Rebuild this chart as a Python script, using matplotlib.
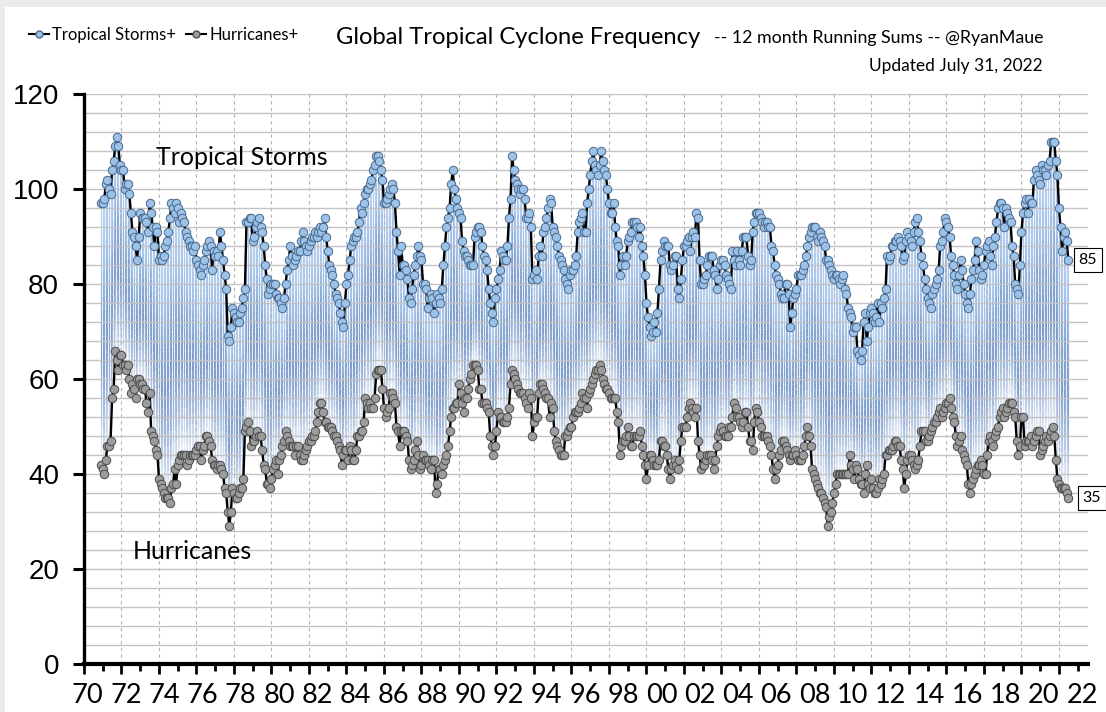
import numpy as np
import matplotlib
matplotlib.use("Agg")
import matplotlib.pyplot as plt
from matplotlib.collections import LineCollection
from matplotlib.colors import LinearSegmentedColormap
from matplotlib.lines import Line2D
from matplotlib.patches import Rectangle
from matplotlib.ticker import MultipleLocator

plt.rcParams['font.family'] = ['Lato', 'DejaVu Sans']

# ---DATA--- 12 month running sums, monthly, Dec 1970 .. Jul 2022
tropical_storms = [
    97, 97, 98, 101, 102, 100, 99, 104, 106, 109, 111, 109,
    105, 104, 104, 100, 101, 101, 99, 95, 91, 90, 88, 85,
    90, 95, 94, 94, 94, 93, 91, 97, 95, 92, 88, 92,
    91, 85, 86, 85, 86, 88, 89, 91, 94, 97, 96, 95,
    97, 96, 93, 95, 94, 93, 91, 90, 89, 88, 88, 87,
    88, 85, 84, 83, 82, 84, 85, 87, 88, 89, 88, 83,
    87, 86, 87, 86, 91, 88, 85, 82, 79, 69, 68, 71,
    75, 74, 73, 72, 72, 74, 75, 77, 79, 93, 93, 94,
    94, 89, 90, 92, 93, 94, 92, 91, 88, 84, 81, 78,
    79, 80, 80, 80, 78, 77, 77, 76, 75, 77, 80, 83,
    85, 88, 86, 84, 85, 86, 87, 87, 89, 91, 89, 88,
    87, 88, 89, 90, 90, 91, 90, 91, 92, 91, 92, 94,
    90, 87, 84, 83, 82, 80, 78, 77, 76, 74, 72, 71,
    76, 80, 82, 85, 88, 89, 90, 90, 91, 93, 96, 95,
    97, 99, 100, 100, 101, 102, 104, 105, 107, 107, 106, 104,
    102, 97, 97, 98, 99, 100, 101, 100, 97, 91, 87, 82,
    88, 84, 84, 83, 81, 77, 76, 79, 82, 84, 86, 88,
    86, 85, 80, 80, 79, 75, 77, 78, 77, 74, 76, 78,
    77, 76, 79, 84, 88, 92, 94, 96, 101, 104, 100, 98,
    96, 95, 94, 89, 87, 86, 86, 85, 84, 84, 84, 90,
    91, 92, 92, 91, 88, 86, 85, 83, 79, 76, 74, 72,
    77, 79, 81, 83, 87, 86, 85, 85, 88, 94, 98, 107,
    104, 102, 101, 100, 99, 100, 100, 98, 94, 94, 95, 92,
    81, 82, 83, 81, 86, 88, 86, 91, 92, 94, 96, 98,
    97, 92, 91, 90, 88, 86, 85, 84, 83, 81, 80, 79,
    82, 83, 83, 84, 86, 91, 93, 94, 95, 91, 91, 97,
    100, 103, 106, 108, 105, 104, 103, 105, 108, 106, 104, 103,
    100, 97, 95, 95, 97, 92, 89, 88, 82, 84, 86, 84,
    86, 89, 90, 91, 93, 93, 93, 92, 90, 92, 88, 86,
    82, 76, 73, 71, 69, 70, 72, 70, 74, 79, 85, 87,
    89, 88, 88, 88, 84, 83, 84, 86, 86, 79, 77, 81,
    85, 88, 88, 89, 90, 87, 90, 91, 90, 95, 94, 85,
    80, 80, 81, 82, 84, 86, 86, 86, 83, 82, 79, 81,
    84, 85, 85, 84, 82, 81, 80, 79, 87, 85, 84, 87,
    85, 84, 87, 90, 90, 90, 86, 84, 85, 91, 93, 95,
    95, 95, 94, 93, 92, 93, 93, 92, 92, 88, 87, 84,
    82, 81, 80, 78, 77, 77, 80, 80, 78, 71, 74, 77,
    78, 79, 82, 82, 82, 83, 84, 86, 88, 90, 91, 92,
    92, 92, 90, 89, 91, 90, 89, 88, 85, 85, 84, 83,
    82, 81, 82, 82, 81, 80, 81, 82, 79, 78, 75, 74,
    73, 70, 71, 71, 66, 65, 64, 66, 72, 74, 68, 71,
    74, 75, 74, 72, 73, 76, 72, 76, 75, 77, 79, 86,
    85, 86, 88, 88, 89, 89, 90, 89, 88, 85, 86, 89,
    91, 90, 89, 88, 91, 93, 94, 91, 89, 86, 84, 81,
    79, 77, 76, 75, 78, 79, 80, 81, 83, 88, 89, 91,
    94, 93, 92, 90, 86, 84, 82, 80, 79, 82, 85, 83,
    80, 78, 76, 75, 78, 81, 83, 85, 89, 87, 83, 81,
    82, 84, 87, 88, 89, 86, 84, 88, 90, 93, 96, 97,
    97, 96, 92, 96, 95, 94, 93, 88, 86, 80, 79, 78,
    84, 91, 95, 97, 98, 95, 98, 97, 97, 102, 104, 103,
    102, 101, 105, 104, 104, 103, 105, 106, 110, 110, 110, 106,
    103, 96, 92, 87, 90, 91, 89, 85,
]

hurricanes = [
    42, 41, 40, 43, 46, 46, 47, 56, 58, 66, 64, 62,
    65, 65, 63, 63, 62, 63, 60, 57, 59, 58, 56, 60,
    60, 59, 59, 58, 58, 55, 53, 57, 49, 48, 47, 45,
    44, 39, 38, 37, 36, 35, 35, 35, 34, 37, 38, 41,
    38, 42, 43, 44, 44, 44, 44, 42, 43, 44, 44, 44,
    44, 45, 46, 46, 43, 45, 46, 48, 48, 47, 46, 43,
    42, 42, 41, 42, 42, 41, 40, 37, 36, 32, 29, 32,
    37, 36, 35, 35, 36, 37, 37, 39, 49, 50, 51, 49,
    46, 47, 47, 48, 49, 48, 48, 45, 42, 41, 38, 38,
    37, 39, 41, 42, 43, 40, 43, 44, 46, 47, 49, 48,
    47, 46, 46, 46, 44, 46, 46, 44, 43, 43, 44, 45,
    46, 47, 47, 48, 48, 49, 51, 53, 55, 55, 53, 51,
    51, 50, 50, 50, 49, 48, 48, 47, 46, 45, 42, 44,
    45, 45, 43, 46, 45, 43, 43, 45, 48, 48, 49, 49,
    51, 56, 55, 54, 55, 54, 54, 56, 61, 62, 62, 62,
    58, 54, 52, 53, 54, 57, 57, 56, 55, 50, 49, 46,
    49, 49, 49, 48, 47, 43, 41, 42, 43, 45, 47, 44,
    41, 42, 44, 43, 43, 43, 42, 41, 43, 43, 36, 38,
    41, 41, 40, 42, 43, 44, 46, 49, 52, 54, 54, 55,
    55, 59, 57, 55, 53, 56, 56, 58, 60, 61, 63, 63,
    63, 62, 58, 58, 55, 55, 55, 54, 53, 48, 46, 44,
    46, 49, 53, 52, 52, 51, 51, 51, 52, 54, 59, 62,
    61, 60, 59, 58, 57, 57, 57, 56, 55, 54, 57, 56,
    48, 51, 52, 52, 57, 59, 59, 58, 57, 56, 56, 52,
    55, 54, 49, 47, 46, 45, 44, 44, 44, 48, 48, 49,
    50, 50, 52, 53, 53, 53, 54, 55, 57, 56, 56, 54,
    57, 58, 59, 60, 61, 62, 62, 63, 62, 60, 59, 58,
    58, 57, 56, 56, 56, 56, 53, 51, 44, 46, 47, 47,
    48, 50, 48, 46, 46, 48, 48, 48, 48, 49, 46, 44,
    42, 39, 42, 44, 44, 43, 42, 42, 42, 43, 47, 47,
    46, 46, 44, 41, 39, 41, 42, 43, 42, 41, 43, 47,
    50, 50, 50, 52, 54, 55, 54, 53, 52, 54, 47, 44,
    41, 42, 42, 43, 44, 44, 44, 43, 41, 43, 46, 48,
    49, 50, 49, 48, 48, 48, 50, 50, 52, 55, 54, 52,
    52, 51, 50, 51, 53, 53, 50, 47, 47, 45, 51, 54,
    53, 51, 50, 48, 48, 48, 48, 47, 46, 44, 41, 39,
    41, 42, 44, 45, 47, 47, 46, 45, 44, 43, 44, 44,
    45, 44, 43, 43, 43, 44, 46, 48, 50, 48, 46, 41,
    40, 39, 38, 37, 36, 36, 35, 34, 33, 29, 31, 32,
    34, 36, 38, 40, 40, 40, 40, 40, 40, 40, 40, 44,
    42, 41, 39, 42, 41, 39, 38, 38, 36, 40, 42, 38,
    37, 39, 37, 36, 36, 37, 39, 38, 39, 40, 44, 44,
    45, 45, 45, 46, 47, 47, 46, 46, 43, 41, 37, 40,
    43, 44, 44, 43, 42, 41, 42, 43, 46, 49, 49, 49,
    47, 47, 48, 49, 50, 51, 51, 52, 53, 54, 52, 53,
    54, 55, 55, 56, 54, 52, 51, 48, 46, 47, 48, 45,
    44, 43, 42, 38, 36, 38, 39, 40, 41, 42, 42, 43,
    42, 40, 40, 44, 47, 48, 47, 46, 48, 49, 50, 52,
    53, 54, 52, 53, 54, 55, 55, 55, 53, 52, 47, 44,
    46, 52, 52, 46, 47, 47, 47, 48, 46, 47, 48, 49,
    49, 44, 45, 46, 47, 48, 47, 48, 49, 50, 48, 43,
    39, 38, 37, 37, 37, 37, 36, 35,
]

year_labels = ['70', '72', '74', '76', '78', '80', '82', '84', '86', '88',
               '90', '92', '94', '96', '98', '00', '02', '04', '06', '08',
               '10', '12', '14', '16', '18', '20', '22']

ts = np.array(tropical_storms, dtype=float)
hu = np.array(hurricanes, dtype=float)
months = 1970 + 11 / 12 + np.arange(len(ts)) / 12.0

# ---FIGURE---
fig = plt.figure(figsize=(11.06, 7.12), dpi=100)
fig.patch.set_facecolor('#ebebeb')
fig.patches.append(Rectangle((5 / 1106, 0), 1, 1 - 7 / 712, transform=fig.transFigure,
                             facecolor='white', edgecolor='none', zorder=-10))

ax = fig.add_axes([84 / 1106, 1 - 664 / 712, (1088 - 84) / 1106, (664 - 94) / 712])
ax.set_facecolor('none')

# high-low lines, gradient from storms (light blue) down to hurricanes (near white)
cmap = LinearSegmentedColormap.from_list(
    'drop', ['#b8d1ef', '#a6c3ea', '#86a6d4', '#7f9dcc', '#a9bedf', '#e9eef6'])
nseg = 20
segs, cols = [], []
for x, top, bot in zip(months, ts, hu):
    yy = np.linspace(top, bot, nseg + 1)
    for i in range(nseg):
        segs.append([(x, yy[i]), (x, yy[i + 1])])
        cols.append(cmap(i / (nseg - 1)))
ax.add_collection(LineCollection(segs, colors=cols, linewidths=0.85, zorder=1))

ax.plot(months, ts, color='black', lw=1.7, zorder=3,
        marker='o', ms=6.1, mfc='#9cc2e8', mec='#4a6a8e', mew=0.7)
ax.plot(months, hu, color='black', lw=1.7, zorder=3,
        marker='o', ms=6.1, mfc='#9c9c9c', mec='#4d4d4d', mew=0.7)

ax.set_xlim(1970, 2023.55)
ax.set_ylim(0, 120)

# axes styling
for s in ['top', 'right']:
    ax.spines[s].set_visible(False)
ax.spines['left'].set_linewidth(2.4)
ax.spines['bottom'].set_linewidth(3.0)

ax.yaxis.set_major_locator(MultipleLocator(20))
ax.yaxis.set_minor_locator(MultipleLocator(4))
ax.xaxis.set_major_locator(MultipleLocator(2))
ax.xaxis.set_minor_locator(MultipleLocator(1))
ax.tick_params(axis='y', which='major', length=8, width=2.2, labelsize=20, pad=10)
ax.tick_params(axis='y', which='minor', length=0)
ax.tick_params(axis='x', which='major', length=7, width=2, labelbottom=False)
ax.tick_params(axis='x', which='minor', length=5, width=2)
for lab in ax.get_yticklabels():
    lab.set_family(['Liberation Sans', 'DejaVu Sans'])

ax.set_axisbelow('line')
ax.grid(axis='y', which='both', color='#c4c4c4', lw=1.0, zorder=1.5)
ax.grid(axis='x', which='major', color='#b4b4b4', lw=0.8, ls=(0, (3, 3)), zorder=1.5)

# year labels
sec = ax.secondary_xaxis('bottom')
sec.set_xticks([1970.2 + 2.04 * k for k in range(len(year_labels))], year_labels)
sec.tick_params(length=0, pad=14, labelsize=19.5)
sec.spines['bottom'].set_visible(False)

# in-plot labels
ax.text(1978.4, 106.7, 'Tropical Storms', fontsize=18, ha='center', va='center', zorder=5)
ax.text(1975.8, 23.6, 'Hurricanes', fontsize=18, ha='center', va='center', zorder=5)

# last value boxes
box = dict(boxstyle='square,pad=0.3', fc='white', ec='black', lw=0.8)
ax.annotate(f'{tropical_storms[-1]:.0f}', (months[-1], ts[-1]), xytext=(10, 0),
            textcoords='offset pixels', va='center', ha='left', fontsize=11.5, bbox=box,
            annotation_clip=False, zorder=6)
ax.annotate(f'{hurricanes[-1]:.0f}', (months[-1], hu[-1]), xytext=(14, 0),
            textcoords='offset pixels', va='center', ha='left', fontsize=11.5, bbox=box,
            annotation_clip=False, zorder=6)

# legend
handles = [Line2D([], [], color='black', lw=1.5, marker='o', ms=5, mfc='#9cc2e8', mec='#4a6a8e'),
           Line2D([], [], color='black', lw=1.5, marker='o', ms=5, mfc='#9c9c9c', mec='#4d4d4d')]
fig.legend(handles, ['Tropical Storms+', 'Hurricanes+'], loc='center left',
           bbox_to_anchor=(14 / 1106, 1 - 35 / 712), ncol=2, frameon=False,
           fontsize=12, handlelength=1.2, handletextpad=0.2, columnspacing=0.6)

# titles
fig.text(336 / 1106, 1 - 37 / 712, 'Global Tropical Cyclone Frequency', fontsize=17.1,
         ha='left', va='center')
fig.text(1043 / 1106, 1 - 38 / 712, '-- 12 month Running Sums -- @RyanMaue', fontsize=12.8,
         ha='right', va='center')
fig.text(1043 / 1106, 1 - 66 / 712, 'Updated July 31, 2022', fontsize=12.5,
         ha='right', va='center')

fig.savefig('out.png', dpi=100, facecolor=fig.get_facecolor())
